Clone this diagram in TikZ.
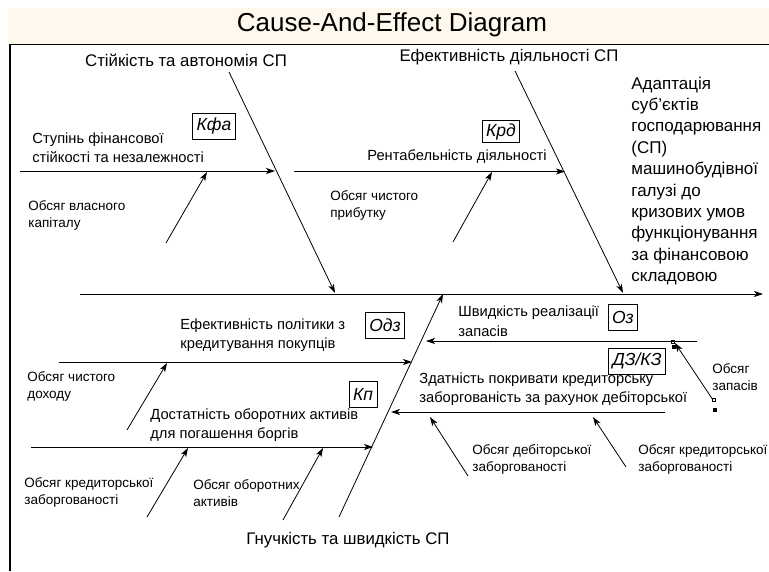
\documentclass[tikz,border=0pt]{standalone}
\usepackage{fontspec}
\setmainfont{Liberation Sans}
\usetikzlibrary{arrows.meta}
\definecolor{titlebg}{RGB}{255,249,237}

\tikzset{
  bone/.style={-{Stealth[length=9pt,width=6pt,inset=2.5pt]}},
  cause/.style={inner sep=0pt,anchor=west,align=left,font=\fontsize{14.7}{19.5}\selectfont},
  factor/.style={inner sep=0pt,anchor=west,align=left,font=\fontsize{13.5}{17}\selectfont},
  group/.style={inner sep=0pt,font=\fontsize{16.8}{20}\selectfont},
  index/.style={draw,inner xsep=4pt,inner ysep=3pt,minimum height=26pt,font=\fontsize{17.5}{20}\selectfont\itshape}
}

\begin{document}
\begin{tikzpicture}[x=1pt,y=-1pt,line width=0.8pt]
        \useasboundingbox (0,0) rectangle (769,571);
        % title band and frame
        \fill[titlebg] (8,8) rectangle (769,44);
        \node (title) at (392,25) {\fontsize{26}{30}\selectfont Cause-And-Effect Diagram};
        \draw[line width=1.5pt] (10,571) -- (10,44.5) -- (769,44.5);

        % spine
        \coordinate (S1) at (80,294);
        \coordinate (S2) at (763,294);
        \draw[bone] (S1)--(S2);

        % main bones
        \coordinate (A1) at (229,72);
        \coordinate (A2) at (335,293);
        \coordinate (B1) at (515,71);
        \coordinate (B2) at (623,293);
        \coordinate (C1) at (339,517);
        \coordinate (C2) at (443,294);
        \draw[bone] (A1)--(A2);
        \draw[bone] (B1)--(B2);
        \draw[bone] (C1)--(C2);

        \node[group] (stab) at (186,60) {Стійкість та автономія СП};
        \node[group] (eff) at (509,57) {Ефективність діяльності СП};
        \node[group] (flex) at (348,540) {Гнучкість та швидкість СП};
        \node[inner sep=0pt,anchor=west,align=left,font=\fontsize{17}{21.4}\selectfont] (goal) at (631,181)
          {Адаптація\\суб’єктів\\господарювання\\(СП)\\машинобудівної\\галузі до\\кризових умов\\функціонування\\за фінансовою\\складовою};

        % sub bones
        \coordinate (a1) at (20,171);
        \coordinate (a2) at (275,171);
        \coordinate (b1) at (294,171.5);
        \coordinate (b2) at (565,171.5);
        \coordinate (c1) at (59,362);
        \coordinate (c2) at (412,362);
        \coordinate (d1) at (31,447);
        \coordinate (d2) at (373,447);
        \coordinate (e1) at (697,341);
        \coordinate (e2) at (426,341);
        \coordinate (f1) at (665,412);
        \coordinate (f2) at (391,412);
        \draw[bone] (a1)--(a2);
        \draw[bone] (b1)--(b2);
        \draw[bone] (c1)--(c2);
        \draw[bone] (d1)--(d2);
        \draw[bone] (e1)--(e2);
        \draw[bone] (f1)--(f2);

        \node[cause] (ca) at (32,147.5) {Ступінь фінансової\\стійкості та незалежності};
        \node[cause] (cb) at (367,157) {Рентабельність діяльності};
        \node[cause] (cc) at (180,335) {Ефективність політики з\\кредитування покупців};
        \node[cause] (cd) at (150,425) {Достатність оборотних активів\\для погашення боргів};
        \node[cause] (ce) at (458,321) {Швидкість реалізації\\запасів};
        \node[cause] (cf) at (419,389) {Здатність покривати кредиторську\\заборгованість за рахунок дебіторської};

        \node[index] (kfa) at (214,126) {Кфа};
        \node[index,minimum height=22pt] (krd) at (501,131.5) {Крд};
        \node[index] (odz) at (385,325) {Одз};
        \node[index] (kp) at (363,394) {Кп};
        \node[index] (oz) at (623,317) {Оз};
        \node[index] (dzkz) at (637,361) {ДЗ/КЗ};

        % factors
        \coordinate (p1) at (166,243);
        \coordinate (p2) at (207,172);
        \coordinate (q1) at (453,242);
        \coordinate (q2) at (492,172);
        \coordinate (r1) at (127,430);
        \coordinate (r2) at (167,363);
        \coordinate (s1) at (147,517);
        \coordinate (s2) at (188,448);
        \coordinate (t1) at (283,520);
        \coordinate (t2) at (323,448);
        \coordinate (u1) at (713,400);
        \coordinate (u2) at (675,343);
        \coordinate (v1) at (468,476);
        \coordinate (v2) at (430,417);
        \coordinate (w1) at (626,467);
        \coordinate (w2) at (593,417);
        \foreach \P/\Q in {p1/p2,q1/q2,r1/r2,s1/s2,t1/t2,u1/u2,v1/v2,w1/w2}
          \draw[bone] (\P)--(\Q);

        \node[factor] (fp) at (28,215) {Обсяг власного\\капіталу};
        \node[factor] (fq) at (330,205) {Обсяг чистого\\прибутку};
        \node[factor] (fr) at (27,386) {Обсяг чистого\\доходу};
        \node[factor] (fs) at (24,492) {Обсяг кредиторської\\заборгованості};
        \node[factor] (ft) at (193,493) {Обсяг оборотних\\активів};
        \node[factor] (fu) at (712,377) {Обсяг\\запасів};
        \node[factor] (fv) at (472,459) {Обсяг дебіторської\\заборгованості};
        \node[factor] (fw) at (638,459) {Обсяг кредиторської\\заборгованості};

        % selection handles
        \fill (672,345) rectangle (676,349);
        \draw[line width=0.6pt] (671.5,340) rectangle (674.5,343);
        \draw[line width=0.6pt] (712.5,398) rectangle (715.5,401);
        \fill (713,408) rectangle (717,412);
\end{tikzpicture}
\end{document}
